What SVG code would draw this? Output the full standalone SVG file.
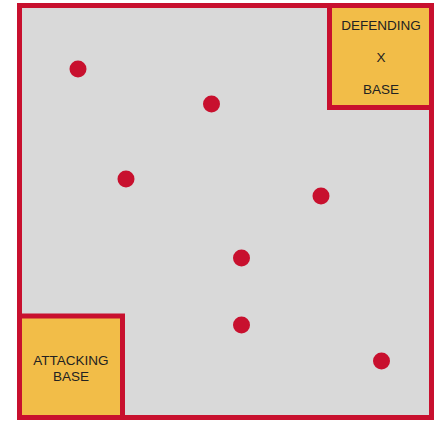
<svg xmlns="http://www.w3.org/2000/svg" width="436" height="421" viewBox="0 0 436 421">
<style>
.field{fill:#d9d9d9;stroke:#c8102e;stroke-width:5}
.base{fill:#f2bd48;stroke:#c8102e;stroke-width:5}
.dot{fill:#c8102e}
.lbl{font-family:"Liberation Sans",Arial,sans-serif;font-size:13.5px;fill:#222;text-anchor:middle}
</style>
<rect class="field" x="19.5" y="5.5" width="412" height="412"/>
<g id="defending-base">
<rect class="base" x="329.5" y="5.5" width="102" height="102"/>
<text class="lbl" x="381" y="30">DEFENDING</text>
<text class="lbl" x="381" y="62">X</text>
<text class="lbl" x="381" y="94">BASE</text>
</g>
<g id="attacking-base">
<rect class="base" x="19.5" y="316" width="103" height="101.5"/>
<text class="lbl" x="71" y="365">ATTACKING</text>
<text class="lbl" x="71" y="381">BASE</text>
</g>
<g id="players">
<circle class="dot" cx="78" cy="69" r="8.5"/>
<circle class="dot" cx="211.5" cy="104" r="8.5"/>
<circle class="dot" cx="126" cy="179" r="8.5"/>
<circle class="dot" cx="321" cy="196" r="8.5"/>
<circle class="dot" cx="241.5" cy="258" r="8.5"/>
<circle class="dot" cx="241.5" cy="325" r="8.5"/>
<circle class="dot" cx="381.5" cy="361" r="8.5"/>
</g>
<g id="connectors"/>
</svg>
